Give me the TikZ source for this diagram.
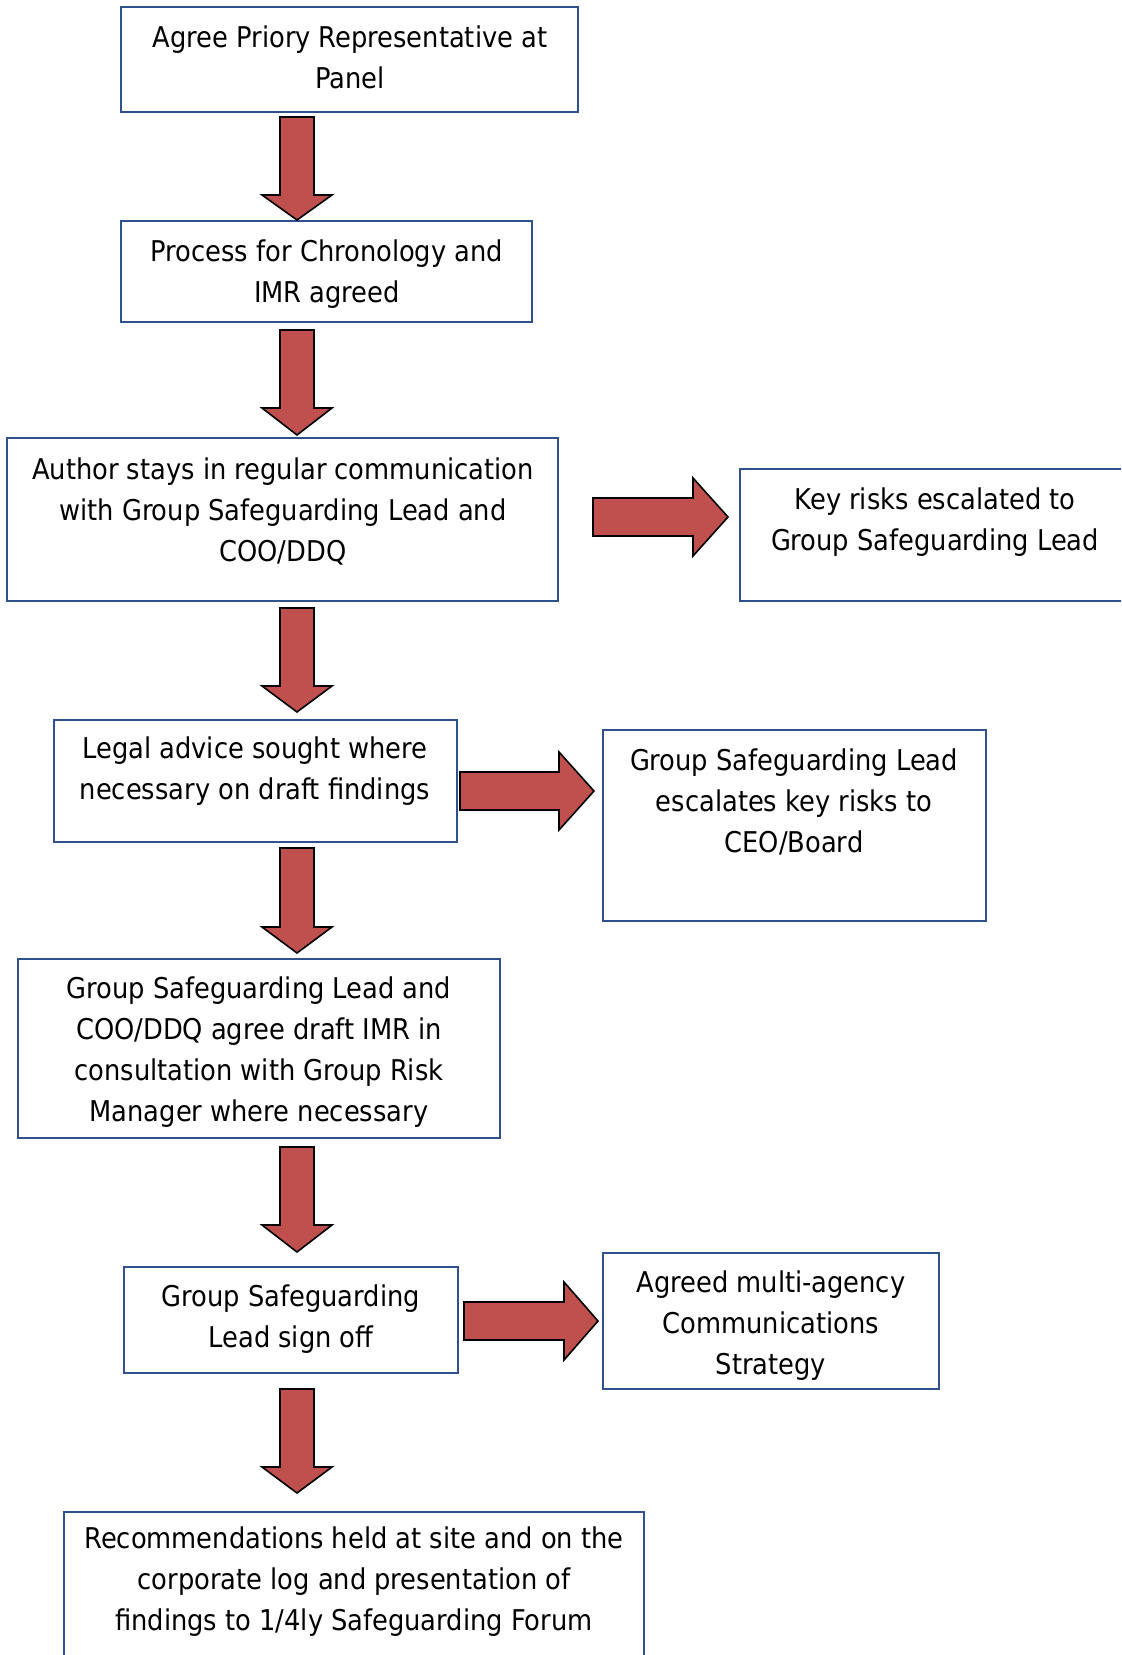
\documentclass[tikz,border=0pt]{standalone}
\usepackage{fontspec}
\setmainfont{DejaVu Sans Condensed}
\definecolor{boxblue}{RGB}{47,82,143}
\definecolor{arrred}{RGB}{192,80,77}
\tikzset{
  box/.style={draw=boxblue, line width=1pt, fill=white},
  lbl/.style={align=center, inner sep=0pt, font=\fontsize{14.3}{20.5}\selectfont},
  blockarrow/.style={draw=black, fill=arrred, line width=0.8pt, line join=miter},
}
% down block arrow: #1 centre x, #2 top y, #3 head start y, #4 tip y
\newcommand\dnblock[4]{%
  \fill[blockarrow] (#1-17,#2) -- (#1+17,#2) -- (#1+17,#3) -- (#1+35,#3) -- (#1,#4) -- (#1-35,#3) -- (#1-17,#3) -- cycle;}
% right block arrow: #1 left x, #2 centre y, #3 head start x, #4 tip x
\newcommand\rtblock[4]{%
  \fill[blockarrow] (#1,#2-19) -- (#3,#2-19) -- (#3,#2-39) -- (#4,#2) -- (#3,#2+39) -- (#3,#2+19) -- (#1,#2+19) -- cycle;}
\begin{document}
\begin{tikzpicture}[x=0.5pt,y=-0.5pt]
\clip (0,0) rectangle (1121,1655);
\fill[white] (0,0) rectangle (1121,1655);
% boxes
\draw[box] (121,7) rectangle (578,112);
\draw[box] (121,221) rectangle (532,322);
\draw[box] (7,438) rectangle (558,601);
\draw[box] (740,469) rectangle (1140,601);
\draw[box] (54,720) rectangle (457,842);
\draw[box] (603,730) rectangle (986,921);
\draw[box] (18,959) rectangle (500,1138);
\draw[box] (124,1267) rectangle (458,1373);
\draw[box] (603,1253) rectangle (939,1389);
\draw[box] (64,1512) rectangle (644,1720);
% texts
\node[lbl] (t1) at (350,57) {Agree Priory Representative at\\Panel};
\node[lbl] (t2) at (327,274) {Process for Chronology and\\IMR agreed};
\node[lbl] (t3) at (283,511) {Author stays in regular communication\\with Group Safeguarding Lead and\\COO/DDQ};
\node[lbl] (t4) at (935,522) {Key risks escalated to\\Group Safeguarding Lead};
\node[lbl] (t5) at (255,771) {Legal advice sought where\\necessary on draft findings};
\node[lbl] (t6) at (794,802) {Group Safeguarding Lead\\escalates key risks to\\CEO/Board};
\node[lbl] (t7) at (259,1052) {Group Safeguarding Lead and\\COO/DDQ agree draft IMR in\\consultation with Group Risk\\Manager where necessary};
\node[lbl] (t8) at (291,1319) {Group Safeguarding\\Lead sign off};
\node[lbl] (t9) at (771,1326) {Agreed multi-agency\\Communications\\Strategy};
\node[lbl] (t10) at (354,1582) {Recommendations held at site and on the\\corporate log and presentation of\\findings to 1/4ly Safeguarding Forum};
% arrows
\dnblock{297}{117}{195}{220}
\dnblock{297}{330}{408}{435}
\dnblock{297}{608}{686}{712}
\dnblock{297}{848}{927}{953}
\dnblock{297}{1147}{1225}{1252}
\dnblock{297}{1389}{1467}{1493}
\rtblock{593}{517}{693}{728}
\rtblock{460}{791}{559}{594}
\rtblock{464}{1321}{564}{598}
\end{tikzpicture}
\end{document}
